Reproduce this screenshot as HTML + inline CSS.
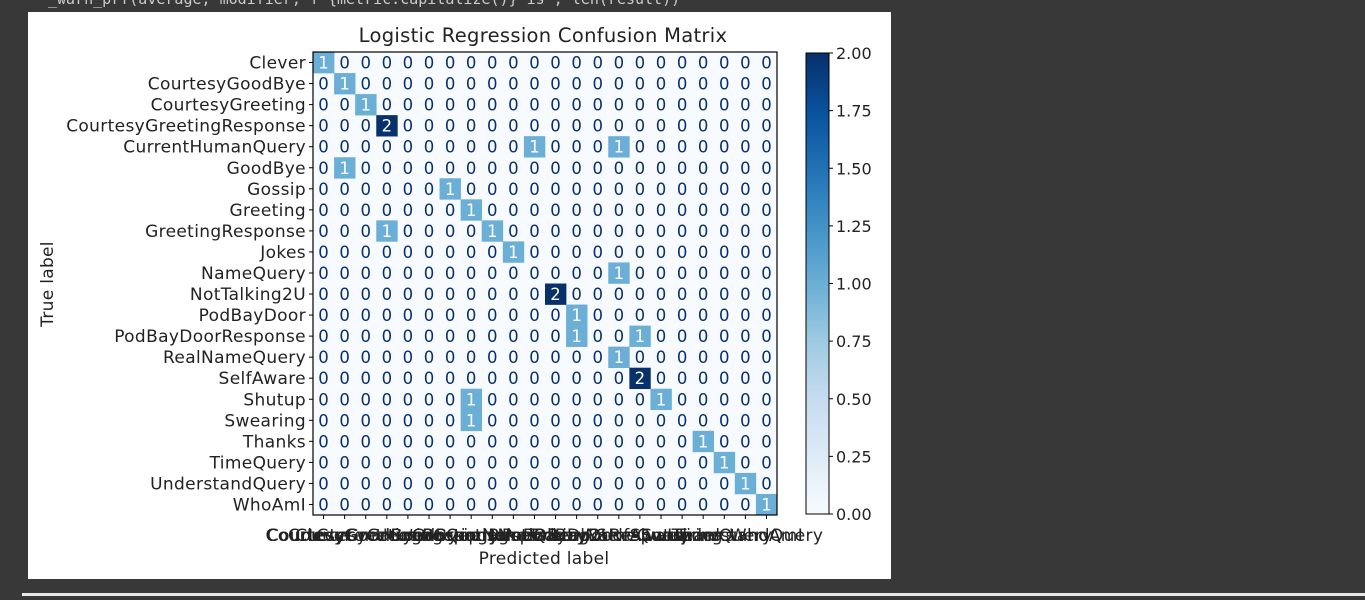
<!DOCTYPE html>
<html><head><meta charset="utf-8"><style>
body{margin:0;background:#383838;width:1365px;height:596px;overflow:hidden;font-family:"DejaVu Sans","Liberation Sans",sans-serif}
</style></head><body>
<svg id="s" width="1365" height="596" xmlns="http://www.w3.org/2000/svg">
<text x="48" y="4" font-family="DejaVu Sans Mono, Liberation Mono, monospace" font-size="15" fill="#cccccc">_warn_prf(average, modifier, f"{metric.capitalize()} is", len(result))</text>
<rect x="28" y="12" width="863" height="567" fill="#ffffff"/>
<rect x="22" y="593" width="1343" height="3" fill="#e8e8e8"/>
<text x="543" y="42" font-size="19.5" letter-spacing="0.3" text-anchor="middle" fill="#222">Logistic Regression Confusion Matrix</text>
<text x="544" y="564" font-size="17" letter-spacing="0.3" text-anchor="middle" fill="#222">Predicted label</text>
<text transform="translate(53,284) rotate(-90)" font-size="17" letter-spacing="0.3" text-anchor="middle" fill="#222">True label</text>
<g id="g"></g>
</svg>
<script>
const labels=["Clever","CourtesyGoodBye","CourtesyGreeting","CourtesyGreetingResponse","CurrentHumanQuery","GoodBye","Gossip","Greeting","GreetingResponse","Jokes","NameQuery","NotTalking2U","PodBayDoor","PodBayDoorResponse","RealNameQuery","SelfAware","Shutup","Swearing","Thanks","TimeQuery","UnderstandQuery","WhoAmI"];
// nonzero entries: [row, col, value]
const nonzero=[[0,0,1],[1,1,1],[2,2,1],[3,3,2],[4,10,1],[4,14,1],[5,1,1],[6,6,1],[7,7,1],[8,3,1],[8,8,1],[9,9,1],[10,14,1],[11,11,2],[12,12,1],[13,12,1],[13,15,1],[14,14,1],[15,15,2],[16,7,1],[16,16,1],[17,7,1],[18,18,1],[19,19,1],[20,20,1],[21,21,1]];
const cbTicks=[0,0.25,0.5,0.75,1,1.25,1.5,1.75,2];
const vmax=2;
const NS="http://www.w3.org/2000/svg",g=document.getElementById('g');
const X0=313,Y0=52,W=464,H=463,n=labels.length,cw=W/n,ch=H/n;
const cx=i=>X0+(i+0.5)*cw, cy=i=>Y0+(i+0.5)*ch;
function mk(t,a){const e=document.createElementNS(NS,t);for(const k in a)e.setAttribute(k,a[k]);g.appendChild(e);return e;}
function color(v){const stops=[[0,[247,251,255]],[0.5,[107,174,214]],[1,[8,48,107]]];const t=v/vmax;for(let i=0;i<2;i++){const[a,ca]=stops[i],[b,cb]=stops[i+1];if(t<=b){const f=(t-a)/(b-a);return`rgb(${ca.map((c,j)=>Math.round(c+(cb[j]-c)*f)).join(',')})`;}}return'rgb(8,48,107)';}
const M=labels.map(()=>labels.map(()=>0));nonzero.forEach(([r,c,v])=>M[r][c]=v);
const bg=mk('rect',{x:X0,y:Y0,width:W,height:H,fill:color(0)});


for(let r=0;r<n;r++)for(let c=0;c<n;c++){const v=M[r][c];
 if(v>0){const rc=mk('rect',{x:X0+c*cw,y:Y0+r*ch,width:cw+0.3,height:ch+0.3,fill:color(v)});
 
 }
 const t=mk('text',{x:cx(c),y:cy(r)+6,'font-size':16.5,'text-anchor':'middle',fill:v>0?'#ffffff':'#08306b'});t.textContent=v;
 
 }
const fr=mk('rect',{x:X0,y:Y0,width:W,height:H,fill:'none',stroke:'#000','stroke-width':1.2});


labels.forEach((l,i)=>{
 mk('line',{x1:X0-4,x2:X0,y1:cy(i),y2:cy(i),stroke:'#000'});
 const t=mk('text',{x:X0-7,y:cy(i)+6,'font-size':17,'letter-spacing':0.35,'text-anchor':'end',fill:'#222'});t.textContent=l;
 
 
 mk('line',{x1:cx(i),x2:cx(i),y1:Y0+H,y2:Y0+H+4,stroke:'#000'});
 const u=mk('text',{x:cx(i),y:Y0+H+26,'font-size':17,'letter-spacing':0.35,'text-anchor':'middle',fill:'#222'});u.textContent=l;
 
 
});
// colorbar
const CX=806,CY=53,CW=23,CH=461;
const defs=mk('defs',{});const lg=document.createElementNS(NS,'linearGradient');lg.setAttribute('id','cb');lg.setAttribute('x1','0');lg.setAttribute('y1','1');lg.setAttribute('x2','0');lg.setAttribute('y2','0');
[[0,'#f7fbff'],[0.125,'#deebf7'],[0.25,'#c6dbef'],[0.375,'#9ecae1'],[0.5,'#6baed6'],[0.625,'#4292c6'],[0.75,'#2171b5'],[0.875,'#08519c'],[1,'#08306b']].forEach(([o,c])=>{const s=document.createElementNS(NS,'stop');s.setAttribute('offset',o);s.setAttribute('stop-color',c);lg.appendChild(s);});defs.appendChild(lg);
const cb=mk('rect',{x:CX,y:CY,width:CW,height:CH,fill:'url(#cb)',stroke:'#000','stroke-width':1});


const cyv=v=>CY+CH-v/vmax*CH;
cbTicks.forEach(v=>{mk('line',{x1:CX+CW,x2:CX+CW+4,y1:cyv(v),y2:cyv(v),stroke:'#000'});
 const t=mk('text',{x:CX+CW+7,y:cyv(v)+6,'font-size':16,fill:'#222'});t.textContent=v.toFixed(2);
 
 });
</script>
</body></html>
